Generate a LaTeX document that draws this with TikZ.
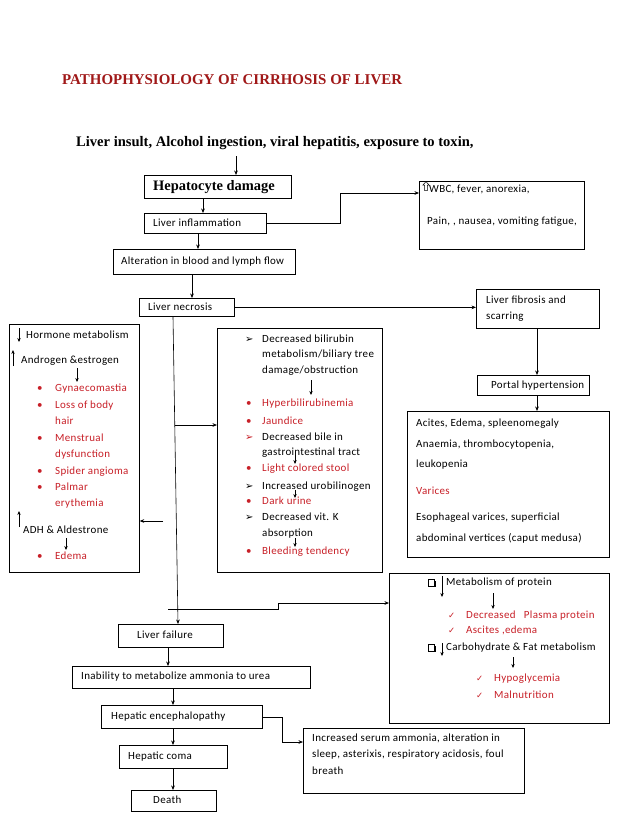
\documentclass[tikz,border=0pt]{standalone}
\usepackage{fontspec}
\setmainfont{Carlito}[LetterSpace=3]
\newfontfamily\tnr{Liberation Serif}
\newfontfamily\symf{DejaVu Sans}
\usetikzlibrary{arrows.meta,calc}
\definecolor{txtred}{RGB}{200,32,40}
\definecolor{titlered}{RGB}{160,24,24}
\newcommand{\qbox}[2]{%
  \fill (#1+1.2,#2-2.2) rectangle (#1+7.6,#2+4.3);
  \filldraw[fill=white, line width=0.6bp] (#1,#2-3.4) rectangle (#1+6.2,#2+2.8);}
\begin{document}
\begin{tikzpicture}[x=1bp,y=-1bp,
  box/.style={draw, line width=0.7bp, inner sep=0, anchor=north west},
  t/.style={anchor=mid west, inner sep=0, font=\fontsize{11}{13}\selectfont},
  rt/.style={t, text=txtred},
  arr/.style={-{Stealth[length=4.5bp,width=3.6bp]}, line width=0.6bp},
  sarr/.style={-{Stealth[length=4bp,width=3.4bp]}, line width=0.6bp},
  symb/.style={anchor=mid west, inner sep=0, font=\symf\fontsize{8.5}{9}\selectfont},
]
\fill[white] (0,0) rectangle (638,826);
\useasboundingbox (0,0) rectangle (638,826);

% titles
\node[anchor=mid west, inner sep=0, font=\tnr\bfseries\fontsize{15}{17}\selectfont, text=titlered] (title) at (62,82) {PATHOPHYSIOLOGY OF CIRRHOSIS OF LIVER};
\node[anchor=mid west, inner sep=0, font=\tnr\bfseries\fontsize{14.6}{17}\selectfont] (insult) at (76,144) {Liver insult, Alcohol ingestion, viral hepatitis, exposure to toxin,};

% boxes
\node[box, minimum width=147bp, minimum height=23bp] (hep) at (144,175) {};
\node[box, minimum width=122bp, minimum height=20bp] (infl) at (144,213) {};
\node[box, minimum width=165bp, minimum height=68bp] (wbc) at (419,181) {};
\node[box, minimum width=182bp, minimum height=25bp] (alt) at (113,249) {};
\node[box, minimum width=95bp, minimum height=18bp] (necro) at (139,298) {};
\node[box, minimum width=123bp, minimum height=39bp] (fib) at (476,289) {};
\node[box, minimum width=112bp, minimum height=20bp] (portal) at (477,375) {};
\node[box, minimum width=202bp, minimum height=146bp] (signs) at (407,411) {};
\node[box, minimum width=130bp, minimum height=248bp] (left) at (9,324) {};
\node[box, minimum width=165bp, minimum height=244bp] (mid) at (217,328) {};
\node[box, minimum width=220bp, minimum height=150bp] (prot) at (389,573) {};
\node[box, minimum width=105bp, minimum height=23bp] (fail) at (118,624) {};
\node[box, minimum width=238bp, minimum height=22bp] (inab) at (72,666) {};
\node[box, minimum width=161bp, minimum height=23bp] (enceph) at (101,705) {};
\node[box, minimum width=221bp, minimum height=65bp] (incr) at (303,728) {};
\node[box, minimum width=108bp, minimum height=23bp] (coma) at (119,745) {};
\node[box, minimum width=85bp, minimum height=21bp] (death) at (131,790) {};

% box texts
\node[anchor=mid west, inner sep=0, font=\tnr\bfseries\fontsize{14.5}{17}\selectfont] (hept) at (153,188) {Hepatocyte damage};
\node[t] (inflt) at (153,224) {Liver inflammation};
\node[t] (altt) at (121,262) {Alteration in blood and lymph flow};
\node[t] (necrot) at (148,308) {Liver necrosis};
\node[t] (fib1) at (486,301) {Liver fibrosis and};
\node[t] (fib2) at (486,317) {scarring};
\node[t] (portt) at (491,386) {Portal hypertension};
\draw[line width=0.5bp, line join=miter] (426,181.5) -- (429,185) -- (427.3,185) -- (427.3,190.5) -- (424.7,190.5) -- (424.7,185) -- (423,185) -- cycle;
\node[t] (wbc1) at (429,190) {WBC, fever, anorexia,};
\node[t] (wbc2) at (427,222) {Pain, , nausea, vomiting fatigue,};

\node[t] (s1) at (416,424) {Acites, Edema, spleenomegaly};
\node[t] (s2) at (416,445) {Anaemia, thrombocytopenia,};
\node[t] (s3) at (416,465) {leukopenia};
\node[rt] (s4) at (416,492) {Varices};
\node[t] (s5) at (416,518) {Esophageal varices, superficial};
\node[t] (s6) at (416,539) {abdominal vertices (caput medusa)};

% left box
\node[t] (l1) at (26,336) {Hormone metabolism};
\node[t] (l2) at (21,361) {Androgen \&estrogen};
\foreach \yy/\txt [count=\i] in {389/Gynaecomastia,406/Loss of body,422/hair,439/Menstrual,455/dysfunction,472/Spider angioma,488/Palmar,504/erythemia}{
  \node[rt] (lt\i) at (55,\yy) {\txt};
}
\foreach \yy [count=\i] in {389,406,439,472,488}{
  \node[rt] (lb\i) at (37,\yy) {•};
}
\node[t] (l3) at (23,531) {ADH \& Aldestrone};
\node[rt] (lb6) at (37,557) {•};
\node[rt] (l4) at (55,557) {Edema};
\draw[sarr] (19,328) -- (19,342);
\draw[sarr] (13,366) -- (13,350);
\draw[sarr] (77,368) -- (77,382);
\draw[sarr] (19,527) -- (19,511);
\draw[sarr] (66,538) -- (66,550);

% middle box
\node[symb, font=\symf\fontsize{10}{10}\selectfont] (m1s) at (245,340) {➢};
\node[t] (m1) at (262,340) {Decreased bilirubin};
\node[t] (m2) at (262,355) {metabolism/biliary tree};
\node[t] (m3) at (262,371) {damage/obstruction};
\draw[sarr] (311,380) -- (311,395);
\node[rt] (m4b) at (246,404) {•};
\node[rt] (m4) at (262,404) {Hyperbilirubinemia};
\node[rt] (m5b) at (246,422) {•};
\node[rt] (m5) at (262,422) {Jaundice};
\node[symb, font=\symf\fontsize{10}{10}\selectfont, text=txtred] (m6s) at (245,438) {➢};
\node[t] (m6) at (262,438) {Decreased bile in};
\node[t] (m7) at (262,453) {gastrointestinal tract};
\draw[sarr] (295,455) -- (295,464);
\node[rt] (m8b) at (246,469) {•};
\node[rt] (m8) at (262,469) {Light colored stool};
\node[symb, font=\symf\fontsize{10}{10}\selectfont] (m9s) at (245,487) {➢};
\node[t] (m9) at (262,487) {Increased urobilinogen};
\draw[sarr] (295,490) -- (295,498);
\node[rt] (m10b) at (246,502) {•};
\node[rt] (m10) at (262,502) {Dark urine};
\node[symb, font=\symf\fontsize{10}{10}\selectfont] (m11s) at (245,518) {➢};
\node[t] (m11) at (262,518) {Decreased vit. K};
\node[t] (m12) at (262,534) {absorption};
\draw[sarr] (295,538) -- (295,547);
\node[rt] (m13b) at (246,552) {•};
\node[rt] (m13) at (262,552) {Bleeding tendency};

% protein box
\qbox{428}{583}
\draw[sarr] (442,576) -- (442,597);
\node[t] (p1) at (446,583) {Metabolism of protein};
\draw[sarr] (493,593) -- (493,609);
\node[symb, text=txtred] (p2s) at (448,616) {✓};
\node[rt] (p2) at (466,616) {Decreased\ \ \ Plasma protein};
\node[symb, text=txtred] (p3s) at (448,631) {✓};
\node[rt] (p3) at (466,631) {Ascites ,edema};
\qbox{428}{648}
\draw[sarr] (442,643) -- (442,656);
\node[t] (p4) at (446,648) {Carbohydrate \& Fat metabolism};
\draw[sarr] (513,657) -- (513,668);
\node[symb, text=txtred] (p5s) at (476,679) {✓};
\node[rt] (p5) at (494,679) {Hypoglycemia};
\node[symb, text=txtred] (p6s) at (476,696) {✓};
\node[rt] (p6) at (494,696) {Malnutrition};

% lower chain texts
\node[t] (failt) at (137,636) {Liver failure};
\node[t] (inabt) at (81,677) {Inability to metabolize ammonia to urea};
\node[t] (encepht) at (111,717) {Hepatic encephalopathy};
\node[t] (comat) at (128,757) {Hepatic coma};
\node[t] (deatht) at (153,801) {Death};
\node[t] (i1) at (312,739) {Increased serum ammonia, alteration in};
\node[t] (i2) at (312,755) {sleep, asterixis, respiratory acidosis, foul};
\node[t] (i3) at (312,772) {breath};

% connectors
\coordinate (a0) at (236,156);
\draw[arr] (a0) -- (a0 |- hep.north);
\draw[arr] (203,0 |- hep.south) -- (203,0 |- infl.north);
\draw[arr] (infl.east) -| (340,193) -- (340,193 -| wbc.west);
\draw[arr] (198,0 |- infl.south) -- (198,0 |- alt.north);
\draw[arr] (192,0 |- alt.south) -- (192,0 |- necro.north);
\draw[arr] (necro.east) -- (necro.east -| fib.west);
\draw[arr] (537,0 |- fib.south) -- (537,0 |- portal.north);
\draw[arr] (537,0 |- portal.south) -- (537,0 |- signs.north);
\draw[arr] (173,0 |- necro.south) -- (178,0 |- fail.north);
\coordinate (j1) at (175,425);
\draw[arr] (j1) -- (j1 -| mid.west);
\coordinate (j2) at (163,521);
\draw[arr] (j2) -- (j2 -| left.east);
\coordinate (j3) at (168,609);
\draw[arr] (j3) -- (278,609) -- (278,603) -- (278,603 -| prot.west);
\draw[arr] (168,0 |- fail.south) -- (168,0 |- inab.north);
\draw[arr] (173,0 |- inab.south) -- (173,0 |- enceph.north);
\draw[arr] (enceph.east) -| (282,742) -- (282,742 -| incr.west);
\draw[arr] (173,0 |- enceph.south) -- (173,0 |- coma.north);
\draw[arr] (173,0 |- coma.south) -- (173,0 |- death.north);
\end{tikzpicture}
\end{document}
